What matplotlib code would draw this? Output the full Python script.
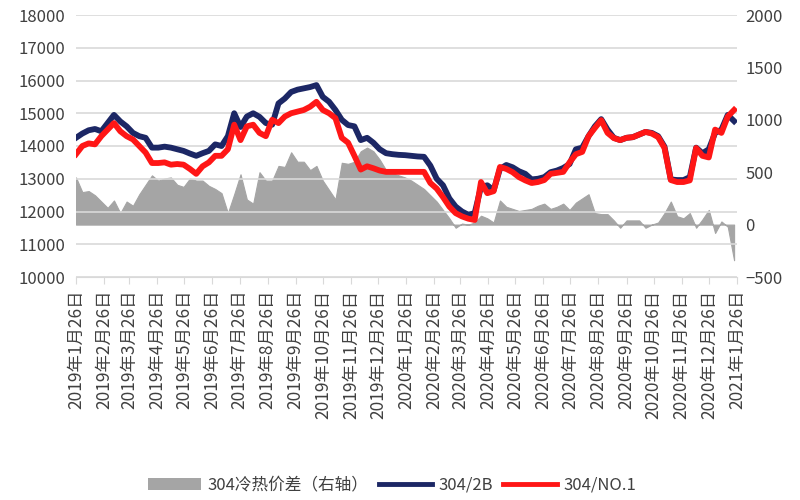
import matplotlib
matplotlib.use("Agg")
import matplotlib.pyplot as plt
import pandas as pd
from matplotlib.patches import Patch
from matplotlib.lines import Line2D

plt.rcParams['font.family'] = ['Noto Sans CJK SC', 'DejaVu Sans']

# weekly sample dates
dates = pd.date_range('2019-01-26', periods=105, freq='7D')

s2b = [14250, 14380, 14480, 14520, 14450, 14700, 14950, 14750, 14600, 14400,
       14300, 14250, 13950, 13950, 13980, 13950, 13900, 13850, 13770, 13700,
       13780, 13850, 14050, 14000, 14300, 15000, 14580, 14900, 15000, 14890,
       14700, 14650, 15300, 15450, 15650, 15720, 15760, 15800, 15860, 15500,
       15350, 15100, 14800, 14640, 14600, 14180, 14250, 14100, 13900, 13780,
       13750, 13730, 13720, 13700, 13680, 13670, 13400, 13000, 12800, 12400,
       12150, 12000, 11900, 11950, 12750, 12800, 12650, 13300, 13420, 13350,
       13230, 13150, 12980, 13000, 13050, 13200, 13250, 13330, 13450, 13900,
       13950, 14300, 14600, 14820, 14500, 14250, 14180, 14250, 14270, 14350,
       14430, 14400, 14300, 13980, 12980, 12960, 12960, 13050, 13950, 13780,
       13900, 14400, 14500, 14950, 14760]

sno1 = [13750, 14000, 14080, 14050, 14300, 14500, 14700, 14450, 14300, 14200,
        14000, 13800, 13480, 13480, 13500, 13430, 13450, 13430, 13300, 13150,
        13380, 13500, 13700, 13700, 13900, 14650, 14180, 14600, 14650, 14400,
        14300, 14800, 14700, 14900, 15000, 15050, 15100, 15200, 15350, 15100,
        15000, 14850, 14250, 14100, 13700, 13280, 13380, 13320, 13250, 13210,
        13210, 13210, 13210, 13210, 13210, 13210, 12870, 12700, 12440, 12150,
        11950, 11850, 11780, 11740, 12900, 12560, 12620, 13360, 13300, 13200,
        13050, 12950, 12870, 12900, 12960, 13150, 13180, 13210, 13500, 13750,
        13820, 14300, 14550, 14790, 14400, 14240, 14180, 14250, 14270, 14350,
        14430, 14380, 14270, 13940, 12960, 12900, 12900, 12950, 13940, 13700,
        13650, 14500, 14400, 14900, 15100]

spread = [450, 310, 320, 280, 220, 160, 230, 110, 220, 180,
          290, 380, 470, 420, 440, 450, 380, 360, 440, 420,
          420, 370, 340, 300, 110, 290, 480, 240, 200, 500,
          420, 420, 560, 550, 690, 600, 600, 520, 560, 420,
          330, 240, 590, 580, 600, 700, 735, 700, 620, 520,
          490, 470, 450, 420, 380, 340, 280, 220, 140, 60,
          -30, 10, 0, 20, 85, 60, 20, 230, 170, 150,
          130, 140, 150, 180, 200, 150, 170, 200, 140, 210,
          250, 290, 110, 100, 100, 40, -30, 40, 40, 40,
          -30, 0, 20, 110, 220, 80, 60, 110, -30, 50,
          140, -80, 30, -20, -340]

tick_dates = pd.date_range('2019-01-01', '2021-01-01', freq='MS') + pd.Timedelta(days=25)
tick_labels = [f"{d.year}年{d.month}月26日" for d in tick_dates]

label_spread = '304冷热价差（右轴）'
label_2b = '304/2B'
label_no1 = '304/NO.1'

fig = plt.figure(figsize=(8, 5), dpi=100)
ax = fig.add_axes([0.095, 0.446, 0.826, 0.524])
ax2 = ax.twinx()

ax2.fill_between(dates, spread, 0, color='#A5A5A5', linewidth=0.8, edgecolor='#A5A5A5')
ax.plot(dates, s2b, color='#1C2765', linewidth=4.2, solid_joinstyle='round', zorder=3)
ax.plot(dates, sno1, color='#FF1616', linewidth=4.2, solid_joinstyle='round', zorder=4)

ax.set_zorder(ax2.get_zorder() + 1)
ax.patch.set_visible(False)

ax.set_ylim(10000, 18000)
ax.set_yticks(range(10000, 18001, 1000))
ax2.set_ylim(-500, 2000)
ax2.set_yticks(range(-500, 2001, 500))

ax.set_xlim(pd.Timestamp('2019-01-26'), pd.Timestamp('2021-01-26'))
ax.set_xticks(tick_dates)
ax.set_xticklabels(tick_labels, rotation=90, fontsize=12.5, color='#404040')

ax.grid(axis='y', color='#D9D9D9', linewidth=1.2)
ax.set_axisbelow(True)
for a in (ax, ax2):
    for sp in a.spines.values():
        sp.set_visible(False)
ax.spines['bottom'].set_visible(True)
ax.spines['bottom'].set_color('#D9D9D9')
ax.tick_params(axis='x', length=5, color='#D9D9D9', pad=4)
ax.tick_params(axis='y', length=0, labelsize=12, labelcolor='#404040', pad=8)
ax2.tick_params(axis='y', length=0, labelsize=12, labelcolor='#404040', pad=6)

handles = [Patch(facecolor='#A5A5A5', edgecolor='none'),
           Line2D([0], [0], color='#1C2765', linewidth=3.5),
           Line2D([0], [0], color='#FF1616', linewidth=3.5)]
fig.legend(handles, [label_spread, label_2b, label_no1], loc='center',
           bbox_to_anchor=(0.49, 0.03), ncol=3, frameon=False, fontsize=12,
           handlelength=3.2, handletextpad=0.4, columnspacing=0.6,
           labelcolor='#404040')

fig.savefig('out.png', dpi=100)
